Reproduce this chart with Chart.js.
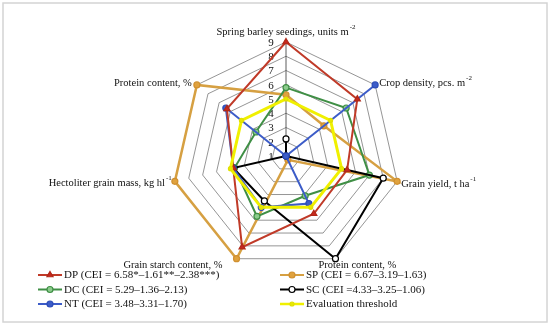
<!DOCTYPE html>
<html><head><meta charset="utf-8">
<script src="https://cdn.jsdelivr.net/npm/chart.js@4.4.0/dist/chart.umd.min.js"></script>
<style>html,body{margin:0;padding:0;background:#fff;}</style>
</head><body>
<canvas id="c" width="550" height="325"></canvas>
<script>
// ---- data ----
const axisLabels = ['Spring barley seedings, units m', 'Crop density, pcs. m', 'Grain yield, t ha', 'Protein content, %', 'Grain starch content, %', 'Hectoliter grain mass, kg hl', 'Protein content, %'];
const axisSup = ['-2', '-2', '-1', '', '', '-1', ''];
const tickValues = [1, 2, 3, 4, 5, 6, 7, 8, 9];
const seriesNames = ['DP (CEI = 6.58*\u20131.61**\u20132.38***)', 'SP (CEI = 6.67\u20133.19\u20131.63)', 'DC (CEI = 5.29\u20131.36\u20132.13)', 'SC (CEI =4.33\u20133.25\u20131.06)', 'NT (CEI = 3.48\u20133.31\u20131.70)', 'Evaluation threshold'];
const dpValues = [9, 7.4, 5.4, 5.5, 8.1, 4.8, 6.3];
const spValues = [5.3, 4.4, 9, 1.3, 9, 9, 9];
const dcValues = [5.8, 6.4, 7.0, 4.1, 5.7, 4.7, 3.7];
const scValues = [2.2, 1, 8.0, 9, 4.5, 4.8, 1];
const ntValues = [1, 9, 1, 4.7, 5, 4.8, 6.4];
const thresholdValues = [5, 5, 5, 5, 5, 5, 5];

// ---- styles ----
const SERIF = '"Liberation Serif", "Times New Roman", serif';
const styles = [
  {border:'#C03A28', fill:'#C8281E', ptBorder:'#B02818', style:'triangle', r:3.5, w:2, order:1},
  {border:'#D6A042', fill:'#E0A23E', ptBorder:'#D09030', style:'circle', r:3, w:2.5, order:5},
  {border:'#3F8F45', fill:'#8CCB8C', ptBorder:'#3F8F45', style:'circle', r:3, w:2, order:4},
  {border:'#000000', fill:'#ffffff', ptBorder:'#000000', style:'circle', r:3, w:2, order:3},
  {border:'#3C5CC8', fill:'#3C5CC8', ptBorder:'#2C4CB8', style:'circle', r:3, w:2, order:2},
  {border:'#F0F000', fill:'#E8E800', ptBorder:'#E0E000', style:'circle', r:2, w:3, order:0}
];
const allValues = [dpValues, spValues, dcValues, scValues, ntValues, thresholdValues];

// label anchor offsets relative to the outer vertex: [dx, dy, align]
const labelPlace = [[0,-10,'center'],[4,-2,'left'],[4,3,'left'],[-17,7,'left'],[-14,7,'right'],[-3,2,'right'],[-5,-2,'right']];

const datasets = allValues.map((vals, i) => ({
  label: seriesNames[i], data: vals,
  borderColor: styles[i].border, backgroundColor: 'rgba(0,0,0,0)', fill: false,
  borderWidth: styles[i].w, pointStyle: styles[i].style, pointRadius: styles[i].r,
  pointBackgroundColor: styles[i].fill, pointBorderColor: styles[i].ptBorder,
  pointBorderWidth: 1.2, order: styles[i].order, tension: 0
}));

function drawLabelWithSup(ctx, x, y, main, sup, align) {
  ctx.font = '10.5px ' + SERIF;
  const mw = ctx.measureText(main).width;
  ctx.font = '7px ' + SERIF;
  const sw = sup ? ctx.measureText(sup).width + 1 : 0;
  const total = mw + sw;
  let left = x;
  if (align === 'center') left = x - total / 2;
  else if (align === 'right') left = x - total;
  ctx.textAlign = 'left';
  ctx.textBaseline = 'middle';
  ctx.fillStyle = '#111';
  ctx.font = '10.5px ' + SERIF;
  ctx.fillText(main, left, y);
  if (sup) {
    ctx.font = '7px ' + SERIF;
    ctx.fillText(sup, left + mw + 1, y - 5);
  }
}

const decor = {
  id: 'decor',
  beforeDraw(chart) {
    const ctx = chart.ctx;
    ctx.save();
    ctx.fillStyle = '#fff';
    ctx.fillRect(0, 0, chart.width, chart.height);
    ctx.strokeStyle = '#d4d4d4';
    ctx.lineWidth = 1.5;
    ctx.strokeRect(3, 3, 544, 319);
    ctx.restore();
  },
  beforeDatasetsDraw(chart) {
    const ctx = chart.ctx, s = chart.scales.r;
    ctx.save();
    ctx.font = '11px ' + SERIF;
    ctx.fillStyle = '#111';
    ctx.textAlign = 'center';
    ctx.textBaseline = 'middle';
    tickValues.forEach(v => {
      const d = s.getDistanceFromCenterForValue(v);
      ctx.fillText(String(v), s.xCenter - 15, s.yCenter - d + 1);
    });
    ctx.restore();
  },
  afterDraw(chart) {
    const ctx = chart.ctx, s = chart.scales.r;
    ctx.save();
    const outer = s.getDistanceFromCenterForValue(9);
    axisLabels.forEach((lab, i) => {
      const p = s.getPointPosition(i, outer);
      const pl = labelPlace[i];
      drawLabelWithSup(ctx, p.x + pl[0], p.y + pl[1], lab, axisSup[i], pl[2]);
    });
    // legend in two columns
    const colX = [38, 280], rowY = [275, 289.5, 304];
    datasets.forEach((ds, i) => {
      const x = colX[i % 2], y = rowY[Math.floor(i / 2)];
      ctx.strokeStyle = ds.borderColor;
      ctx.lineWidth = i === 5 ? 2.5 : 2;
      ctx.beginPath(); ctx.moveTo(x, y); ctx.lineTo(x + 24, y); ctx.stroke();
      ctx.fillStyle = ds.pointBackgroundColor;
      ctx.strokeStyle = ds.pointBorderColor;
      ctx.lineWidth = 1.2;
      Chart.helpers.drawPoint(ctx, {pointStyle: ds.pointStyle, radius: ds.pointRadius, borderWidth: 1.2, rotation: 0}, x + 12, y);
      ctx.fillStyle = '#111';
      ctx.font = '11px ' + SERIF;
      ctx.textAlign = 'left';
      ctx.textBaseline = 'middle';
      ctx.fillText(ds.label, x + 26, y + 0.5);
    });
    ctx.restore();
  }
};

new Chart(document.getElementById('c'), {
  type: 'radar',
  data: { labels: axisLabels, datasets },
  options: {
    responsive: false, animation: false, devicePixelRatio: 1,
    layout: { padding: { left: 172, right: 150, top: 42, bottom: 55 } },
    plugins: { legend: { display: false }, tooltip: { enabled: false } },
    scales: {
      r: {
        min: 1, max: 9, beginAtZero: false,
        ticks: { display: false, stepSize: 1 },
        pointLabels: { display: false },
        grid: { color: '#7a7a7a', lineWidth: 0.8 },
        angleLines: { display: true, lineWidth: 0.8, color: (c) => c.index === 0 ? '#333' : 'rgba(0,0,0,0)' }
      }
    }
  },
  plugins: [decor]
});
</script>
</body></html>
